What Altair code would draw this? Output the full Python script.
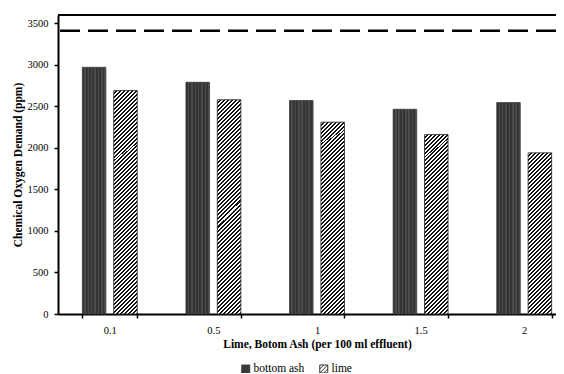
import altair as alt
import pandas as pd

# ---- data ----
categories = ["0.1", "0.5", "1", "1.5", "2"]
series = ["bottom ash", "lime"]
bottom_ash = [2970, 2790, 2570, 2465, 2545]
lime = [2690, 2580, 2310, 2160, 1940]
threshold = [3410]
y_ticks = [0, 500, 1000, 1500, 2000, 2500, 3000, 3500]
y_max = 3600

rows = []
for c, a, l in zip(categories, bottom_ash, lime):
    rows.append({"category": c, "series": series[0], "value": a})
    rows.append({"category": c, "series": series[1], "value": l})
df = pd.DataFrame(rows)
df_thr = pd.DataFrame({"threshold": threshold})
df_top = pd.DataFrame({"top": [y_max]})

FONT = "Liberation Serif"
FULL_W = 518          # full plot width of the original frame (partly off-page)
PLOT_W, PLOT_H = 498, 299
BAR_W = 23.5


def stripes(c1, c2, n, x2, y2, frac=0.5):
    stops = []
    for i in range(n):
        o0 = round(i / n, 5)
        o1 = round((i + frac) / n, 5)
        o2 = round((i + 1) / n, 5)
        stops += [
            {"offset": o0, "color": c1},
            {"offset": o1, "color": c1},
            {"offset": o1, "color": c2},
            {"offset": o2, "color": c2},
        ]
    return {"gradient": "linear", "x1": 0, "y1": 0, "x2": x2, "y2": y2, "stops": stops}


def hatch_for(value, period=4.0):
    # 45-degree "/" hatching for a bar of given pixel height (bbox-relative gradient)
    h = value / y_max * PLOT_H
    a = BAR_W / h
    k = (a + 1) / (a * a + 1)
    n = max(1, round((h + BAR_W) / period))
    return stripes("#ffffff", "#111111", n, round(a * k, 5), round(k, 5), 0.5)


conditions = []
for c, l in zip(categories, lime):
    conditions.append(
        {"test": f"datum.series === 'lime' && datum.category === '{c}'", "value": hatch_for(l)}
    )
conditions.append(
    {"test": "datum.series === 'bottom ash'", "value": stripes("#353535", "#4a4a4a", 7, 1, 0, 0.55)}
)

legend_path = "M-1,-1H1V1H-1Z M-1,0L0,-1 M-1,1L1,-1 M0,1L1,0"

legend = alt.Legend(
    title=None,
    orient="none",
    legendX=182,
    legendY=348,
    direction="horizontal",
    symbolType=legend_path,
    symbolSize=64,
    symbolStrokeWidth=0.9,
    labelFont=FONT,
    labelFontSize=11.5,
    labelColor="black",
    columnPadding=12,
    labelOffset=2,
)

bars = alt.Chart(df).mark_bar(strokeWidth=0.8).encode(
    x=alt.X(
        "category:N",
        sort=categories,
        scale=alt.Scale(paddingInner=0.47, paddingOuter=0.235, range=[0, FULL_W]),
        axis=alt.Axis(
            title="Lime, Botom Ash (per 100 ml effluent)",
            labelAngle=0,
            tickBand="extent",
            tickSize=4,
            labelPadding=7.5,
            titlePadding=2,
        ),
    ),
    xOffset=alt.XOffset(
        "series:N", sort=series, scale=alt.Scale(paddingInner=0.25, paddingOuter=0)
    ),
    y=alt.Y(
        "value:Q",
        scale=alt.Scale(domain=[0, y_max], nice=False),
        axis=alt.Axis(
            title="Chemical Oxygen Demand (ppm)",
            values=y_ticks,
            format="d",
            grid=False,
            tickSize=4,
            labelPadding=6,
            titlePadding=4,
        ),
    ),
    fill=alt.Fill(
        "series:N",
        sort=series,
        scale=alt.Scale(domain=series, range=["#3a3a3a", "#ffffff"]),
        legend=legend,
        condition=conditions,
    ),
    stroke=alt.Stroke(
        "series:N",
        sort=series,
        scale=alt.Scale(domain=series, range=["#3a3a3a", "#222222"]),
        legend=legend,
    ),
)

rule = alt.Chart(df_thr).mark_rule(
    color="black", strokeWidth=2.5, strokeDash=[20, 8]
).encode(y="threshold:Q")

top_line = alt.Chart(df_top).mark_rule(color="black", strokeWidth=2).encode(y="top:Q")

chart = (
    alt.layer(bars, rule, top_line)
    .properties(
        width=PLOT_W,
        height=PLOT_H,
        autosize=alt.AutoSizeParams(type="none"),
        padding={"left": 50, "top": 7, "right": 0, "bottom": 59},
    )
    .configure_view(strokeWidth=0)
    .configure_axis(
        labelFont=FONT,
        titleFont=FONT,
        labelFontSize=10.5,
        titleFontSize=11.5,
        titleFontWeight="bold",
        labelColor="black",
        titleColor="black",
        domainColor="black",
        domainWidth=2,
        tickColor="black",
        tickWidth=1.5,
    )
)

chart.save("out.html", embed_options={"renderer": "svg", "actions": False})
